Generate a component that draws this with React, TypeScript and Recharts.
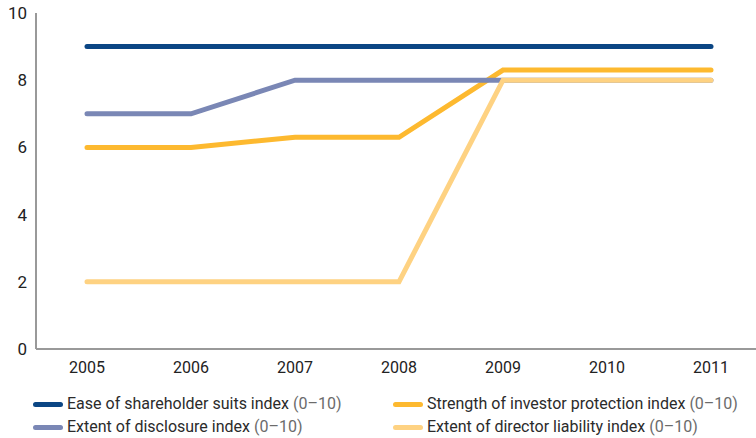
import React from 'react';
import { LineChart, Line, XAxis, YAxis, Legend } from 'recharts';

document.body.style.margin = '0';

const years = ['2005', '2006', '2007', '2008', '2009', '2010', '2011'];
const easeOfSuits = [9, 9, 9, 9, 9, 9, 9];
const investorProtection = [6, 6, 6.3, 6.3, 8.3, 8.3, 8.3];
const disclosure = [7, 7, 8, 8, 8, 8, 8];
const directorLiability = [2, 2, 2, 2, 8, 8, 8];
const yTicks = [0, 2, 4, 6, 8, 10];

const data = years.map((year, i) => ({
  year,
  ease: easeOfSuits[i],
  strength: investorProtection[i],
  disclosure: disclosure[i],
  liability: directorLiability[i],
}));

const FONT = 'Roboto, "Open Sans", sans-serif';

const legendItems = [
  { label: 'Ease of shareholder suits index', color: '#0b4684', col: 0, row: 0 },
  { label: 'Strength of investor protection index', color: '#fdb92f', col: 1, row: 0 },
  { label: 'Extent of disclosure index', color: '#7a87b5', col: 0, row: 1 },
  { label: 'Extent of director liability index', color: '#fed282', col: 1, row: 1 },
];

const ChartLegend = () => (
  <div style={{ position: 'relative', width: 756, height: 44, fontFamily: FONT, fontSize: 16, lineHeight: '20px' }}>
    {legendItems.map((item) => (
      <div
        key={item.label}
        style={{
          position: 'absolute',
          left: item.col === 0 ? 33 : 393,
          top: item.row * 23,
          display: 'flex',
          alignItems: 'center',
          height: 20,
          whiteSpace: 'nowrap',
        }}
      >
        <span
          style={{
            display: 'inline-block',
            width: 30,
            height: 5,
            borderRadius: 3,
            background: item.color,
            marginRight: 4,
          }}
        />
        <span style={{ color: '#2b2b2b' }}>{item.label}</span>
        <span style={{ color: '#6b6b6b', marginLeft: 4 }}>(0–10)</span>
      </div>
    ))}
  </div>
);

const App: React.FC = () => {
  return (
    <LineChart
      width={756}
      height={438}
      data={data}
      margin={{ top: 13, right: 0, bottom: 0, left: 0 }}
    >
      <XAxis
        dataKey="year"
        padding={{ left: 51, right: 45 }}
        axisLine={{ stroke: '#999', strokeWidth: 2 }}
        tickLine={false}
        tickMargin={7}
        height={45}
        tick={{ fill: '#222', fontSize: 16, fontFamily: FONT }}
      />
      <YAxis
        domain={[0, 10]}
        ticks={yTicks}
        width={36}
        axisLine={{ stroke: '#999', strokeWidth: 2 }}
        tickLine={false}
        tickMargin={3}
        tick={{ fill: '#222', fontSize: 17, fontFamily: FONT }}
      />
      <Line dataKey="ease" stroke="#0b4684" strokeWidth={5} strokeLinecap="round" dot={false} isAnimationActive={false} />
      <Line dataKey="strength" stroke="#fdb92f" strokeWidth={5} strokeLinecap="round" dot={false} isAnimationActive={false} />
      <Line dataKey="disclosure" stroke="#7a87b5" strokeWidth={5} strokeLinecap="round" dot={false} isAnimationActive={false} />
      <Line dataKey="liability" stroke="#fed282" strokeWidth={5} strokeLinecap="round" dot={false} isAnimationActive={false} />
      <Legend
        verticalAlign="bottom"
        height={44}
        content={() => <ChartLegend />}
        wrapperStyle={{ left: 0, bottom: 0, width: 756 }}
      />
    </LineChart>
  );
};

export default App;
